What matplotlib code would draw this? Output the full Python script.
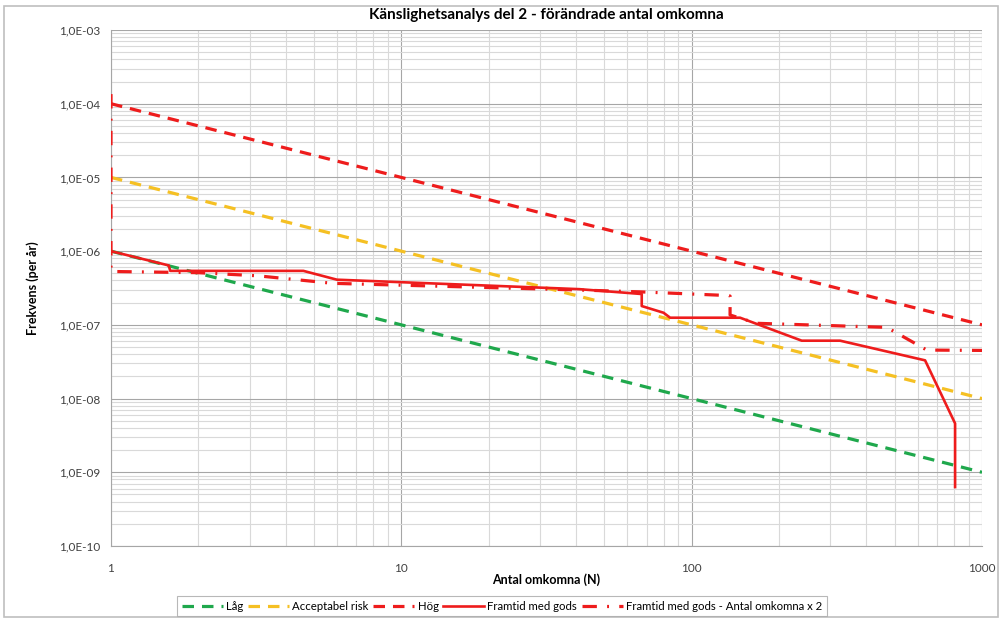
import matplotlib
matplotlib.use("Agg")
import matplotlib.pyplot as plt
from matplotlib.ticker import LogLocator, FixedLocator, NullFormatter
from matplotlib.patches import Rectangle

plt.rcParams['font.family'] = ['Lato', 'DejaVu Sans']

# ---- data ----
title = "Känslighetsanalys del 2 - förändrade antal omkomna"
xlabel = "Antal omkomna (N)"
ylabel = "Frekvens (per år)"

N_limits = [1, 1000]
F_lag = [1e-6, 1e-9]
F_acc = [1e-5, 1e-8]
F_hog = [1e-4, 1e-7]

N_solid = [1, 1.58, 1.6, 4.6, 6.0, 41, 67.3, 67.3, 80, 84.3, 146.8, 239.4, 324.5, 636.7, 807.8, 807.8]
F_solid = [1e-6, 6.4e-7, 5.4e-7, 5.4e-7, 4.1e-7, 3.05e-7, 2.62e-7, 1.80e-7, 1.46e-7, 1.25e-7, 1.25e-7,
           6.1e-8, 6.1e-8, 3.3e-8, 4.6e-9, 6.3e-10]

N_dd = [1, 1, 2.0, 3.2, 5.8, 41, 67, 133, 135.6, 135.6, 167.6, 470, 645.6, 1000]
F_dd = [1.35e-4, 5.3e-7, 5.1e-7, 4.63e-7, 3.66e-7, 2.97e-7, 2.8e-7, 2.5e-7, 2.46e-7, 1.36e-7, 1.05e-7,
        9.25e-8, 4.55e-8, 4.5e-8]

labels = ["Låg", "Acceptabel risk", "Hög", "Framtid med gods", "Framtid med gods - Antal omkomna x 2"]
ytick_vals = [1e-10, 1e-9, 1e-8, 1e-7, 1e-6, 1e-5, 1e-4, 1e-3]
ytick_labels = ["1,0E-10", "1,0E-09", "1,0E-08", "1,0E-07", "1,0E-06", "1,0E-05", "1,0E-04", "1,0E-03"]
xtick_vals = [1, 10, 100, 1000]
xtick_labels = ["1", "10", "100", "1000"]

# ---- figure ----
W, H = 1002, 619
fig = plt.figure(figsize=(W / 100, H / 100), dpi=100)
left, right, top, bottom = 111, 982, 30, 546
ax = fig.add_axes([left / W, 1 - bottom / H, (right - left) / W, (bottom - top) / H])

# outer chart frame
fig.patches.append(Rectangle((4 / W, 2 / H), (W - 8) / W, (H - 8) / H, transform=fig.transFigure,
                             fill=False, edgecolor='#BFBFBF', linewidth=1.2))

green = '#1FA84C'
yellow = '#F5C023'
red = '#EE1C1C'

dash = (3.6, 2.5)
ax.plot(N_limits, F_lag, color=green, lw=2.3, dashes=dash, label=labels[0], zorder=3)
ax.plot(N_limits, F_acc, color=yellow, lw=2.3, dashes=dash, label=labels[1], zorder=3)
ax.plot(N_limits, F_hog, color=red, lw=2.3, dashes=dash, label=labels[2], zorder=3)
ax.plot(N_solid, F_solid, color=red, lw=1.9, label=labels[3], zorder=4)
ax.plot(N_dd, F_dd, color=red, lw=2.3, dashes=(4.5, 3.2, 0.6, 3.2), label=labels[4], zorder=4)

ax.set_xscale('log')
ax.set_yscale('log')
ax.set_xlim(1, 1000)
ax.set_ylim(1e-10, 1e-3)

ax.yaxis.set_major_locator(FixedLocator(ytick_vals))
ax.set_yticklabels(ytick_labels)
ax.xaxis.set_major_locator(FixedLocator(xtick_vals))
ax.set_xticklabels(xtick_labels)
ax.xaxis.set_minor_locator(LogLocator(base=10, subs=range(2, 10), numticks=20))
ax.yaxis.set_minor_locator(LogLocator(base=10, subs=range(2, 10), numticks=20))
ax.xaxis.set_minor_formatter(NullFormatter())
ax.yaxis.set_minor_formatter(NullFormatter())

ax.grid(True, which='major', color='#A6A6A6', lw=0.8)
ax.grid(True, which='minor', color='#D9D9D9', lw=0.8)
ax.set_axisbelow(True)
for s in ['top', 'right']:
    ax.spines[s].set_visible(False)
ax.spines['left'].set_color('#A6A6A6')
ax.spines['bottom'].set_color('#A6A6A6')
ax.tick_params(which='both', length=0, labelsize=8.5, colors='#404040', pad=8)
ax.tick_params(axis='x', pad=12)

ax.set_title(title, fontsize=11, fontweight='bold', pad=8)
ax.set_xlabel(xlabel, fontsize=9, fontweight='bold', labelpad=0)
ax.set_ylabel(ylabel, fontsize=9, fontweight='bold', labelpad=14)

leg = fig.legend(loc='center', bbox_to_anchor=(502 / W, 1 - 606 / H), ncol=5, fontsize=8.2,
                 frameon=True, fancybox=False, edgecolor='#A6A6A6', handlelength=3.6,
                 handletextpad=0.3, columnspacing=0.4, borderpad=0.4)
leg.get_frame().set_linewidth(0.8)

fig.savefig("out.png", dpi=100)
